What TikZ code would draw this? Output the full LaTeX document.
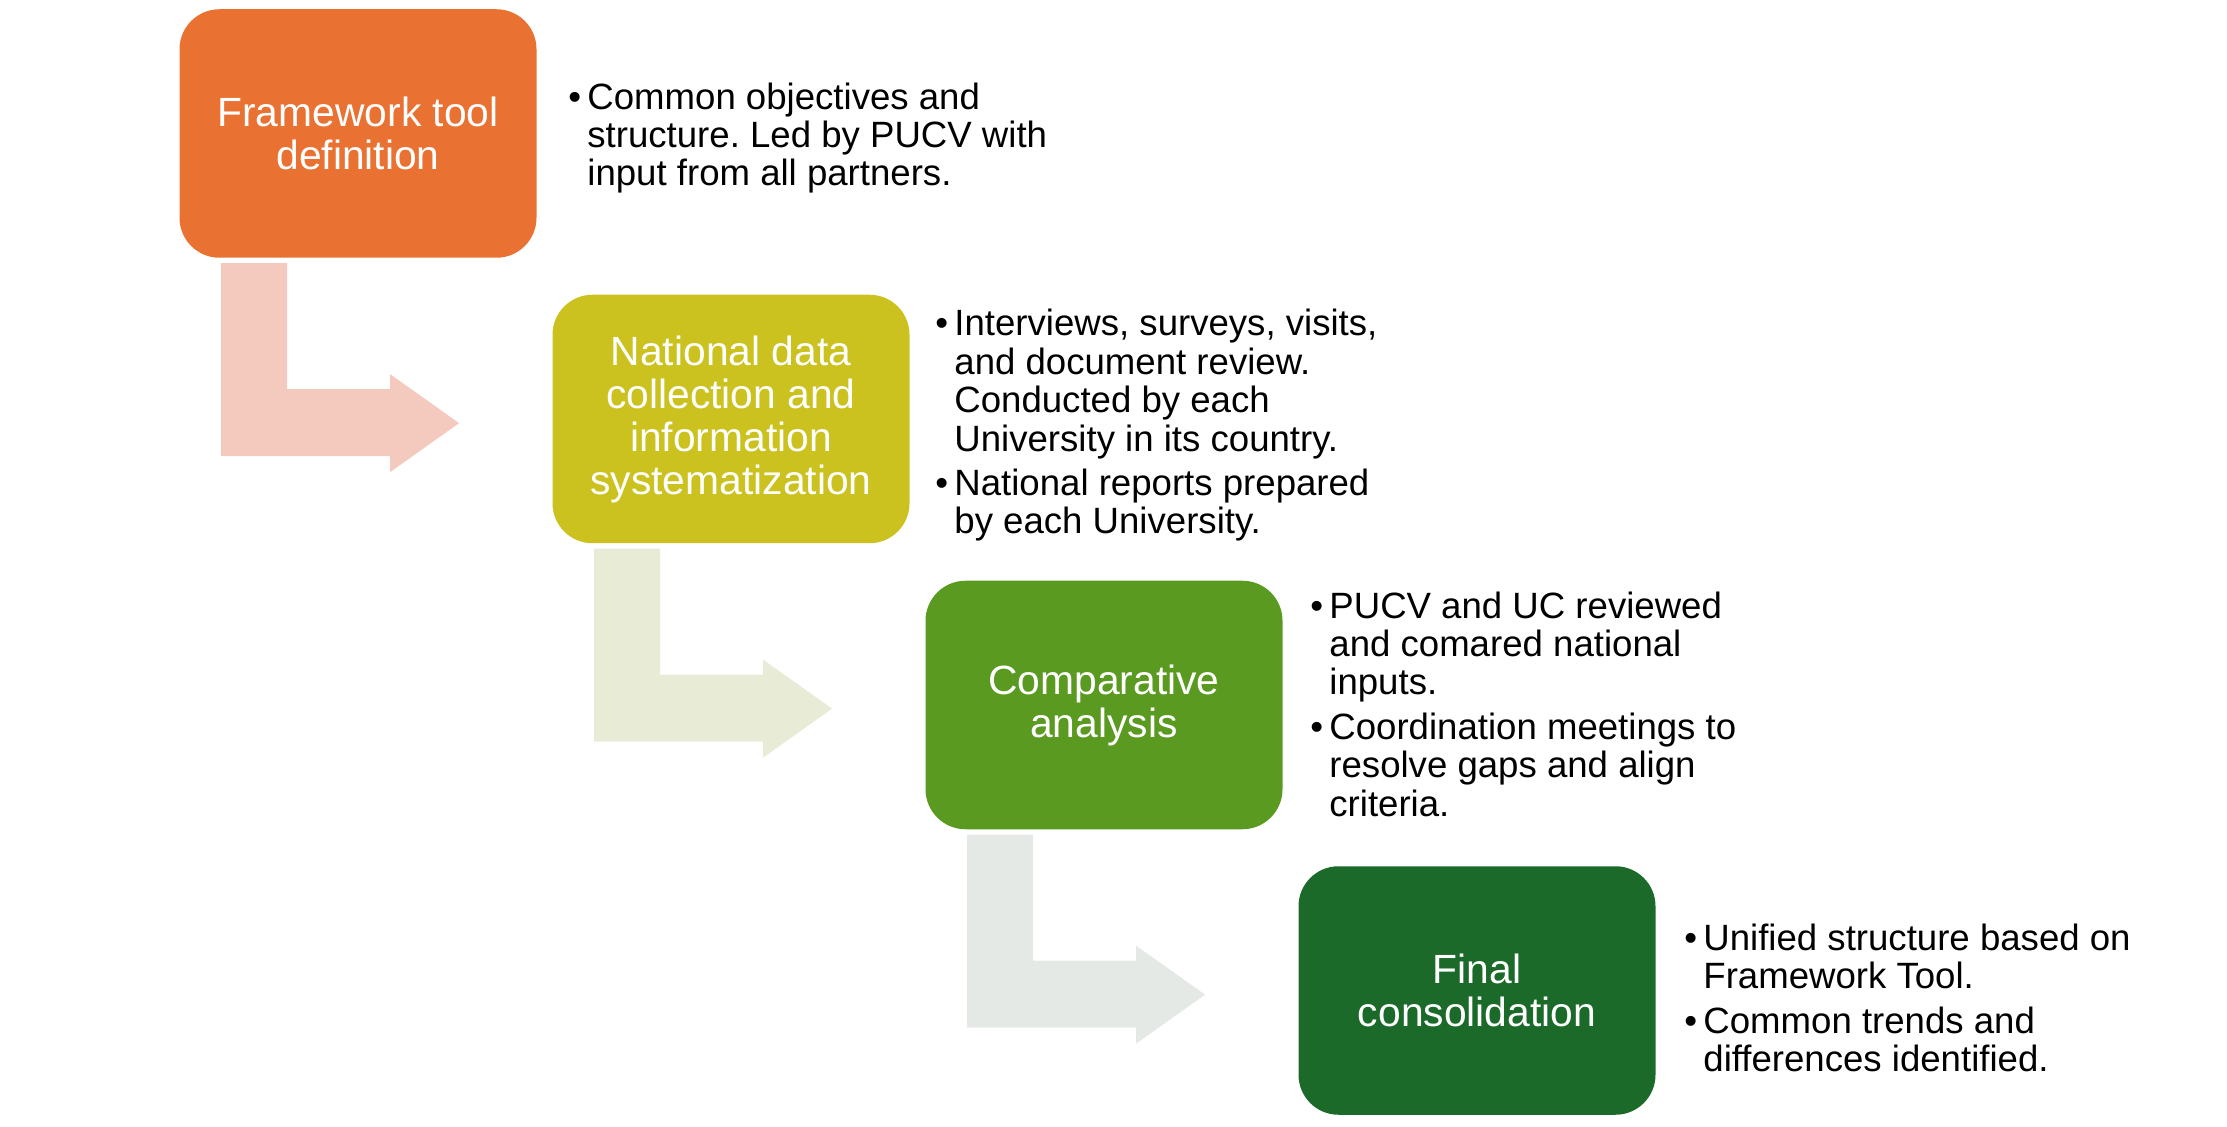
\documentclass[tikz,border=0pt]{standalone}
\usepackage{fontspec}
\setmainfont{Liberation Sans}
\usetikzlibrary{calc}
\frenchspacing
\definecolor{c1}{HTML}{E97132}
\definecolor{c2}{HTML}{CBC11F}
\definecolor{c3}{HTML}{5A9A20}
\definecolor{c4}{HTML}{1B6A29}
\definecolor{a1}{HTML}{F4C9BE}
\definecolor{a2}{HTML}{E8ECD6}
\definecolor{a3}{HTML}{E5E9E5}
\newcommand\bul{\makebox[9.5pt][l]{\textbullet}}
\newcommand\ind{\hspace*{9.5pt}}
\newcommand\bentarrow[2]{%
  \fill[#2] ([shift={(42,5)}]#1.south west) -- ++(66,0) -- ++(0,126) -- ++(103,0)
    -- ++(0,-15) -- ++(69,49) -- ++(-69,49) -- ++(0,-16) -- ++(-169,0) -- cycle;}
\tikzset{
  box/.style={rounded corners=20pt, minimum width=178.5pt, minimum height=124.25pt,
    inner sep=0pt, text=white, align=center, font=\fontsize{20.4}{21.5}\selectfont},
  desc/.style={anchor=west, inner sep=0pt, align=left, text=black,
    font=\fontsize{18.3}{19.2}\selectfont\frenchspacing}
}
\begin{document}
\begin{tikzpicture}[x=0.5pt,y=-0.5pt]
\useasboundingbox (0,0) rectangle (2227,1127);
\node[box, fill=c1] (b1) at (358,133.5) {Framework tool\\definition};
\node[box, fill=c2] (b2) at (731,419) {National data\\collection and\\information\\systematization};
\node[box, fill=c3] (b3) at (1104,705) {Comparative\\analysis};
\node[box, fill=c4] (b4) at (1477,990.5) {Final\\consolidation};
\bentarrow{b1}{a1}
\bentarrow{b2}{a2}
\bentarrow{b3}{a3}
\node[desc] (t1) at (568,138) {\bul Common objectives and\\\ind structure. Led by PUCV with\\\ind input from all partners.};
\node[desc] (t2) at (935,425.5) {\bul Interviews, surveys, visits,\\\ind and document review.\\\ind Conducted by each\\\ind University in its country.\\[3pt]\bul National reports prepared\\\ind by each University.};
\node[desc] (t3) at (1310,704) {\bul PUCV and UC reviewed\\\ind and comared national\\\ind inputs.\\[3pt]\bul Coordination meetings to\\\ind resolve gaps and align\\\ind criteria.};
\node[desc] (t4) at (1684,998) {\bul Unified structure based on\\\ind Framework Tool.\\[3pt]\bul Common trends and\\\ind differences identified.};
\end{tikzpicture}
\end{document}
